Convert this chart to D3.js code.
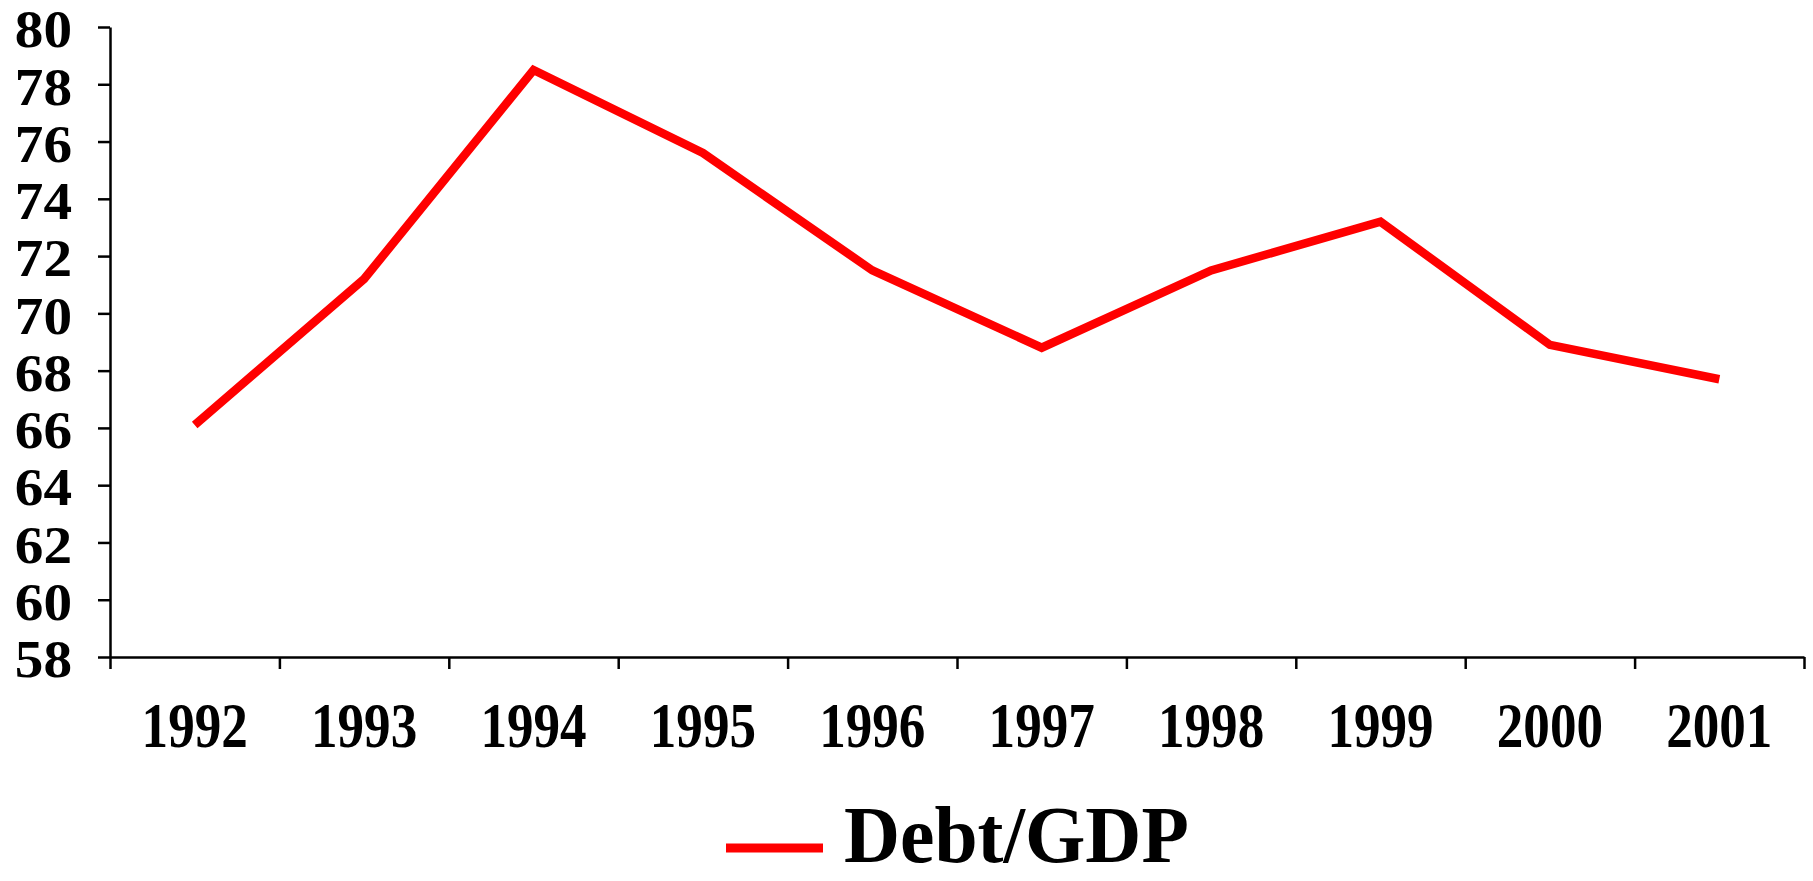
<!DOCTYPE html>
<html>
<head>
<meta charset="utf-8">
<script src="https://cdn.jsdelivr.net/npm/d3@7"></script>
<style>
  body { margin: 0; background: #fff; }
  svg text { font-family: "Liberation Serif", "Times New Roman", serif; font-weight: bold; fill: #000; }
</style>
</head>
<body>
<div id="chart"></div>
<script>
// data
var years = ["1992", "1993", "1994", "1995", "1996", "1997", "1998", "1999", "2000", "2001"];
var debtGdp = [66.1, 71.2, 78.5, 75.6, 71.5, 68.8, 71.5, 73.2, 68.9, 67.7];
var yTicks = [58, 60, 62, 64, 66, 68, 70, 72, 74, 76, 78, 80];
var seriesName = "Debt/GDP";

var svgWidth = 1813;
var svgHeight = 881;

var plotLeft = 110, plotRight = 1804, plotTop = 27, plotBottom = 657;

var svg = d3.select("#chart")
  .append("svg")
  .attr("width", svgWidth)
  .attr("height", svgHeight);

// scales
var xBand = d3.scaleBand()
  .domain(years)
  .range([plotLeft, plotRight])
  .padding(0);
var xEdge = d3.scaleLinear()
  .domain([0, years.length])
  .range([plotLeft, plotRight]);
var y = d3.scaleLinear()
  .domain([58, 80])
  .range([plotBottom, plotTop]);

// y axis
var yAxis = svg.append("g")
  .attr("transform", `translate(${plotLeft},0)`)
  .call(d3.axisLeft(y).tickValues(yTicks).tickSize(12).tickSizeOuter(0).tickPadding(0));
yAxis.selectAll("path, line").attr("stroke", "#000").attr("stroke-width", 2.5);
yAxis.selectAll("text")
  .attr("x", 0)
  .attr("dy", "0.38em")
  .attr("text-anchor", "end")
  .attr("font-size", 52)
  .attr("transform", "translate(-38,0) scale(1.1,1)");

// x axis: ticks between categories
var xAxis = svg.append("g")
  .attr("transform", `translate(0,${plotBottom})`)
  .call(d3.axisBottom(xEdge).tickValues(d3.range(years.length + 1)).tickFormat("").tickSize(12).tickSizeOuter(0));
xAxis.selectAll("path, line").attr("stroke", "#000").attr("stroke-width", 2.5);

// x labels centred in categories
svg.append("g")
  .selectAll("text")
  .data(years)
  .enter()
  .append("text")
  .attr("transform", d => `translate(${xBand(d) + xBand.bandwidth() / 2},747) scale(0.83,1)`)
  .attr("text-anchor", "middle")
  .attr("font-size", 64)
  .text(d => d);

// the line
var line = d3.line()
  .x((d, i) => xBand(years[i]) + xBand.bandwidth() / 2)
  .y(d => y(d));

svg.append("path")
  .datum(debtGdp)
  .attr("d", line)
  .attr("fill", "none")
  .attr("stroke", "#ff0000")
  .attr("stroke-width", 8.5)
  .attr("stroke-linejoin", "miter");

// legend
var legend = svg.append("g");
legend.append("line")
  .attr("x1", 726).attr("x2", 823)
  .attr("y1", 848).attr("y2", 848)
  .attr("stroke", "#ff0000")
  .attr("stroke-width", 9);
legend.append("text")
  .attr("transform", "translate(844,862) scale(0.97,1)")
  .attr("font-size", 80)
  .text(seriesName);
</script>
</body>
</html>
